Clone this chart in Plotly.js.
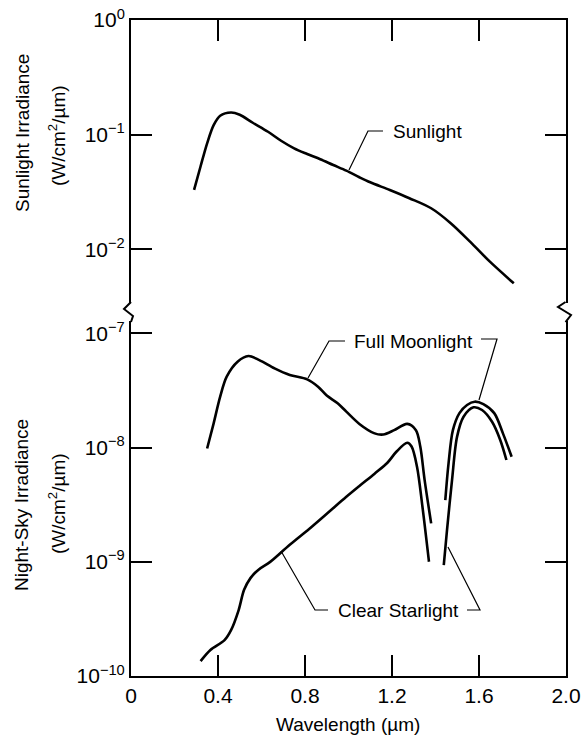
<!DOCTYPE html>
<html>
<head>
<meta charset="utf-8">
<script src="https://cdn.plot.ly/plotly-3.0.1.min.js"></script>
<style>html,body{margin:0;padding:0;background:#fff;}#chart{width:582px;height:742px;}</style>
</head>
<body>
<div id="chart"></div>
<script>
// ---- Data ----
const sunX = [0.29, 0.32, 0.35, 0.38, 0.41, 0.46, 0.50, 0.56, 0.63, 0.69, 0.75, 0.81, 0.87, 0.93, 0.99, 1.05, 1.10, 1.19, 1.28, 1.38, 1.47, 1.56, 1.65, 1.76];
const sunY = [0.033, 0.053, 0.084, 0.121, 0.146, 0.156, 0.149, 0.127, 0.106, 0.0885, 0.076, 0.0678, 0.061, 0.0543, 0.0485, 0.0425, 0.0384, 0.0329, 0.0279, 0.0228, 0.0169, 0.0116, 0.0078, 0.00505];

const moonX1 = [0.35, 0.38, 0.41, 0.44, 0.49, 0.54, 0.59, 0.66, 0.73, 0.81, 0.86, 0.90, 0.95, 0.99, 1.05, 1.12, 1.16, 1.21, 1.27, 1.31, 1.33, 1.35, 1.38];
const moonY1 = [9.8e-9, 1.63e-8, 2.79e-8, 4.17e-8, 5.64e-8, 6.32e-8, 5.83e-8, 4.93e-8, 4.32e-8, 3.95e-8, 3.41e-8, 2.85e-8, 2.44e-8, 2.06e-8, 1.61e-8, 1.33e-8, 1.30e-8, 1.42e-8, 1.61e-8, 1.42e-8, 1.02e-8, 5.19e-9, 2.17e-9];
const moonX2 = [1.445, 1.46, 1.48, 1.51, 1.545, 1.58, 1.62, 1.67, 1.71, 1.75];
const moonY2 = [3.47e-9, 7.28e-9, 1.42e-8, 2.0e-8, 2.36e-8, 2.52e-8, 2.40e-8, 2.0e-8, 1.33e-8, 8.3e-9];

const starX1 = [0.32, 0.365, 0.43, 0.46, 0.495, 0.52, 0.55, 0.585, 0.64, 0.73, 0.83, 0.92, 0.99, 1.05, 1.12, 1.18, 1.22, 1.27, 1.29, 1.315, 1.34, 1.37];
const starY1 = [1.35e-10, 1.69e-10, 2.06e-10, 2.52e-10, 3.78e-10, 5.68e-10, 7.23e-10, 8.49e-10, 9.98e-10, 1.41e-9, 2.02e-9, 2.84e-9, 3.7e-9, 4.6e-9, 5.9e-9, 7.4e-9, 9.18e-9, 1.10e-8, 1.02e-8, 6.79e-9, 3.03e-9, 1.0e-9];
const starX2 = [1.438, 1.453, 1.476, 1.499, 1.529, 1.575, 1.614, 1.66, 1.698, 1.726];
const starY2 = [9.35e-10, 1.90e-9, 5.19e-9, 1.24e-8, 1.86e-8, 2.25e-8, 2.13e-8, 1.68e-8, 1.16e-8, 7.78e-9];

const xTickVals = [0, 0.4, 0.8, 1.2, 1.6, 2.0];
const xTickText = ['0', '0.4', '0.8', '1.2', '1.6', '2.0'];
const topTickVals = [1, 0.1, 0.01];
const topTickText = ['10<sup>0</sup>', '10<sup>\u22121</sup>', '10<sup>\u22122</sup>'];
const botTickVals = [1e-7, 1e-8, 1e-9, 1e-10];
const botTickText = ['10<sup>\u22127</sup>', '10<sup>\u22128</sup>', '10<sup>\u22129</sup>', '10<sup>\u221210</sup>'];

// ---- Geometry helpers (pixel -> paper) ----
const W = 582, H = 742, ML = 131, MR = 16, MT = 20, MB = 66;
const PW = W - ML - MR, PH = H - MT - MB;
const px = x => (x - ML) / PW;
const py = y => (H - MB - y) / PH;
const path = pts => 'M' + pts.map(p => px(p[0]).toFixed(4) + ',' + py(p[1]).toFixed(4)).join(' L');

const FONT = '"Liberation Sans", Arial, Helvetica, sans-serif';
const lineStyle = {color: '#000', width: 2.6, shape: 'spline', smoothing: 0.9};

const traces = [
  {x: sunX, y: sunY, xaxis: 'x2', yaxis: 'y', mode: 'lines', line: lineStyle, name: 'Sunlight'},
  {x: moonX1, y: moonY1, xaxis: 'x', yaxis: 'y2', mode: 'lines', line: lineStyle, name: 'Full Moonlight'},
  {x: moonX2, y: moonY2, xaxis: 'x', yaxis: 'y2', mode: 'lines', line: lineStyle, name: 'Full Moonlight'},
  {x: starX1, y: starY1, xaxis: 'x', yaxis: 'y2', mode: 'lines', line: lineStyle, name: 'Clear Starlight'},
  {x: starX2, y: starY2, xaxis: 'x', yaxis: 'y2', mode: 'lines', line: lineStyle, name: 'Clear Starlight'}
];

const axisCommon = {
  showline: true, linecolor: '#000', linewidth: 2,
  ticks: 'inside', ticklen: 21, tickwidth: 1.5, tickcolor: '#000',
  showgrid: false, zeroline: false,
  tickfont: {family: FONT, size: 21, color: '#000'}
};

const topBottom = py(303), botTop = py(321);

const layout = {
  width: W, height: H,
  margin: {l: ML, r: MR, t: MT, b: MB},
  paper_bgcolor: '#fff', plot_bgcolor: '#fff',
  showlegend: false,
  font: {family: FONT, size: 19, color: '#000'},
  xaxis: Object.assign({}, axisCommon, {
    domain: [0, 1], range: [0, 2], anchor: 'y2',
    tickmode: 'array', tickvals: xTickVals, ticktext: xTickText
  }),
  xaxis2: Object.assign({}, axisCommon, {
    domain: [0, 1], range: [0, 2], anchor: 'y', side: 'top',
    tickmode: 'array', tickvals: xTickVals, showticklabels: false
  }),
  yaxis: Object.assign({}, axisCommon, {
    type: 'log', domain: [topBottom, 1], range: [-(303 - 20) / 114.65, 0],
    anchor: 'x2', mirror: 'ticks',
    tickmode: 'array', tickvals: topTickVals, ticktext: topTickText
  }),
  yaxis2: Object.assign({}, axisCommon, {
    type: 'log', domain: [0, botTop], range: [-10, -7 + (333.3 - 321) / 114.2],
    anchor: 'x', mirror: 'ticks',
    tickmode: 'array', tickvals: botTickVals, ticktext: botTickText
  }),
  shapes: [
    // axis break marks
    {type: 'path', xref: 'paper', yref: 'paper', path: path([[131, 302], [124, 309], [133, 316], [131, 322]]), line: {color: '#000', width: 2}},
    {type: 'path', xref: 'paper', yref: 'paper', path: path([[565.5, 302], [558, 307], [571, 315], [565.5, 322]]), line: {color: '#000', width: 2}},
    // leader lines
    {type: 'path', xref: 'paper', yref: 'paper', path: path([[349, 170], [368, 131], [383, 131]]), line: {color: '#000', width: 1.2}},
    {type: 'path', xref: 'paper', yref: 'paper', path: path([[308, 378], [329, 341], [345, 341]]), line: {color: '#000', width: 1.2}},
    {type: 'path', xref: 'paper', yref: 'paper', path: path([[481, 339], [497, 339], [479, 400]]), line: {color: '#000', width: 1.2}},
    {type: 'path', xref: 'paper', yref: 'paper', path: path([[281, 551], [315, 610], [328, 610]]), line: {color: '#000', width: 1.2}},
    {type: 'path', xref: 'paper', yref: 'paper', path: path([[467, 610], [480, 610], [448, 547]]), line: {color: '#000', width: 1.2}}
  ],
  annotations: [
    {text: 'Sunlight', xref: 'paper', yref: 'paper', x: px(391), y: py(131), xanchor: 'left', yanchor: 'middle', showarrow: false, font: {size: 19}},
    {text: 'Full Moonlight', xref: 'paper', yref: 'paper', x: px(352), y: py(341), xanchor: 'left', yanchor: 'middle', showarrow: false, font: {size: 19}},
    {text: 'Clear Starlight', xref: 'paper', yref: 'paper', x: px(336), y: py(610), xanchor: 'left', yanchor: 'middle', showarrow: false, font: {size: 19}},
    {text: 'Wavelength (\u00b5m)', xref: 'paper', yref: 'paper', x: px(348), y: py(724), xanchor: 'center', yanchor: 'middle', showarrow: false, font: {size: 19}},
    {text: 'Sunlight Irradiance', xref: 'paper', yref: 'paper', x: px(22), y: py(133), xanchor: 'center', yanchor: 'middle', textangle: -90, showarrow: false, font: {size: 19}},
    {text: '(W/cm<sup>2</sup>/\u00b5m)', xref: 'paper', yref: 'paper', x: px(57), y: py(136), xanchor: 'center', yanchor: 'middle', textangle: -90, showarrow: false, font: {size: 19}},
    {text: 'Night-Sky Irradiance', xref: 'paper', yref: 'paper', x: px(22), y: py(505), xanchor: 'center', yanchor: 'middle', textangle: -90, showarrow: false, font: {size: 19}},
    {text: '(W/cm<sup>2</sup>/\u00b5m)', xref: 'paper', yref: 'paper', x: px(57), y: py(504), xanchor: 'center', yanchor: 'middle', textangle: -90, showarrow: false, font: {size: 19}}
  ]
};

Plotly.newPlot('chart', traces, layout, {displayModeBar: false});
</script>
</body>
</html>
